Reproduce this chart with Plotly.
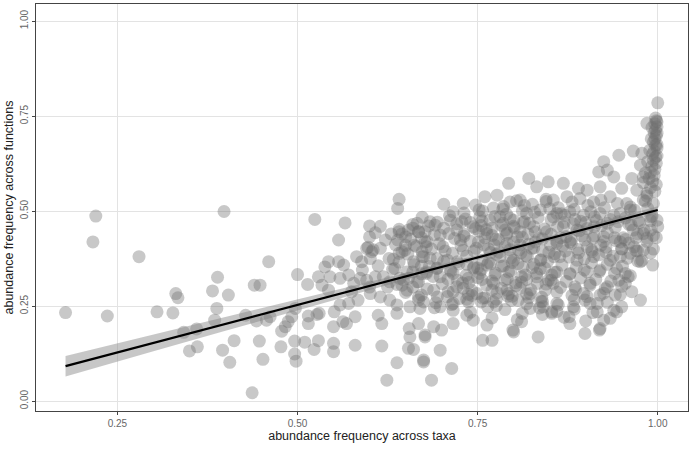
import plotly.graph_objects as go

# ---- data ----
# sparse points on the left (x < 0.57)
x_left = [0.178, 0.216, 0.220, 0.236, 0.280, 0.305, 0.327, 0.331, 0.334, 0.350, 0.361, 0.360, 0.342,
          0.382, 0.389, 0.388, 0.385, 0.398, 0.404, 0.396, 0.412, 0.406, 0.428, 0.440, 0.448, 0.443,
          0.447, 0.452, 0.437, 0.460, 0.457, 0.462, 0.477, 0.478, 0.483, 0.487, 0.492, 0.497, 0.500,
          0.496, 0.496, 0.498, 0.510, 0.514, 0.515, 0.523, 0.527, 0.530, 0.529, 0.524,
          0.529, 0.538, 0.543, 0.534, 0.543, 0.545, 0.515,
          0.550, 0.550, 0.550, 0.551, 0.557, 0.563]
y_left = [0.233, 0.419, 0.487, 0.224, 0.380, 0.235, 0.232, 0.283, 0.272, 0.132, 0.143, 0.190, 0.181,
          0.290, 0.326, 0.244, 0.213, 0.499, 0.279, 0.134, 0.159, 0.102, 0.226, 0.305, 0.305, 0.211,
          0.158, 0.110, 0.022, 0.367, 0.213, 0.222, 0.143, 0.184, 0.196, 0.209, 0.222, 0.244, 0.333,
          0.158, 0.124, 0.105, 0.155, 0.307, 0.224, 0.136, 0.228, 0.231, 0.159, 0.478,
          0.327, 0.353, 0.367, 0.305, 0.292, 0.327, 0.204,
          0.196, 0.152, 0.130, 0.235, 0.424, 0.209]

# middle of the cloud (0.55 - 0.68)
x_mid = [0.566, 0.600, 0.608, 0.600, 0.622, 0.641, 0.639, 0.666, 0.668, 0.654, 0.596, 0.603, 0.601,
         0.589, 0.615, 0.649, 0.641, 0.661, 0.675, 0.673, 0.557, 0.564, 0.571, 0.559, 0.587, 0.596,
         0.608, 0.619, 0.635, 0.628, 0.642, 0.654, 0.666, 0.679, 0.575, 0.584, 0.601, 0.615, 0.628,
         0.638, 0.652, 0.668, 0.656, 0.670, 0.559, 0.571, 0.568, 0.580, 0.612, 0.617, 0.638,
         0.655, 0.668, 0.677, 0.580, 0.617, 0.654, 0.661, 0.638, 0.675, 0.624, 0.656, 0.641, 0.639,
         0.598, 0.605, 0.645, 0.660, 0.672, 0.650, 0.662, 0.680, 0.582, 0.627, 0.612, 0.590, 0.625,
         0.645, 0.660, 0.672, 0.600, 0.578, 0.630, 0.615]
y_mid = [0.469, 0.461, 0.443, 0.432, 0.424, 0.446, 0.424, 0.468, 0.446, 0.450, 0.402, 0.393, 0.375,
         0.367, 0.402, 0.397, 0.389, 0.367, 0.380, 0.393, 0.367, 0.358, 0.332, 0.323, 0.323, 0.318,
         0.327, 0.327, 0.349, 0.314, 0.323, 0.323, 0.314, 0.340, 0.288, 0.266, 0.283, 0.274, 0.266,
         0.253, 0.292, 0.274, 0.248, 0.244, 0.253, 0.257, 0.204, 0.222, 0.226, 0.204, 0.231,
         0.191, 0.204, 0.169, 0.147, 0.145, 0.139, 0.136, 0.101, 0.103, 0.055, 0.169, 0.531, 0.507,
         0.405, 0.398, 0.440, 0.455, 0.430, 0.410, 0.410, 0.420, 0.380, 0.375, 0.356, 0.345, 0.300,
         0.305, 0.340, 0.355, 0.300, 0.310, 0.440, 0.460]

# dense part of the cloud (0.68 - 0.86)
x_dense = [0.793, 0.821, 0.832, 0.848, 0.760, 0.777, 0.703, 0.730, 0.747, 0.795, 0.809, 0.716, 0.684,
           0.691, 0.712, 0.728, 0.753, 0.767, 0.781, 0.800, 0.818, 0.837, 0.855, 0.677, 0.698, 0.721,
           0.747, 0.763, 0.788, 0.809, 0.828, 0.846, 0.679, 0.702, 0.726, 0.730, 0.751, 0.773, 0.791,
           0.809, 0.830, 0.851, 0.684, 0.708, 0.722, 0.745, 0.763, 0.781, 0.800, 0.819, 0.837, 0.856,
           0.679, 0.698, 0.716, 0.737, 0.753, 0.774, 0.793, 0.811, 0.832, 0.853, 0.689, 0.709, 0.730,
           0.749, 0.770, 0.791, 0.809, 0.823, 0.844, 0.675, 0.698, 0.716, 0.737, 0.772, 0.793, 0.823,
           0.841, 0.853, 0.716, 0.744, 0.763, 0.800, 0.811, 0.834, 0.689, 0.700, 0.677, 0.757, 0.770,
           0.698, 0.675, 0.714, 0.686, 0.799,
           0.740, 0.755, 0.770, 0.785, 0.800, 0.815, 0.760, 0.775, 0.790, 0.805, 0.820, 0.835, 0.745,
           0.765, 0.780, 0.795, 0.810, 0.825, 0.840, 0.735, 0.750, 0.768, 0.783, 0.798, 0.813, 0.828,
           0.843, 0.722, 0.738, 0.756, 0.772, 0.788, 0.803, 0.818, 0.833, 0.848, 0.708, 0.725, 0.742,
           0.760, 0.776, 0.792, 0.806, 0.821, 0.838, 0.694, 0.712, 0.731, 0.757, 0.785, 0.815, 0.845]
y_dense = [0.573, 0.586, 0.564, 0.577, 0.538, 0.542, 0.518, 0.520, 0.516, 0.524, 0.529, 0.498, 0.472,
           0.463, 0.476, 0.472, 0.485, 0.476, 0.485, 0.476, 0.494, 0.503, 0.485, 0.446, 0.437, 0.450,
           0.454, 0.441, 0.450, 0.446, 0.459, 0.446, 0.406, 0.406, 0.424, 0.397, 0.419, 0.411, 0.415,
           0.411, 0.419, 0.411, 0.376, 0.371, 0.367, 0.353, 0.358, 0.380, 0.371, 0.380, 0.371, 0.380,
           0.336, 0.327, 0.336, 0.323, 0.336, 0.332, 0.340, 0.327, 0.336, 0.332, 0.292, 0.288, 0.297,
           0.283, 0.292, 0.292, 0.297, 0.283, 0.292, 0.261, 0.248, 0.257, 0.261, 0.261, 0.283, 0.244,
           0.248, 0.231, 0.204, 0.213, 0.200, 0.182, 0.209, 0.169, 0.196, 0.187, 0.174, 0.160, 0.160,
           0.134, 0.108, 0.086, 0.055, 0.187,
           0.470, 0.462, 0.455, 0.468, 0.460, 0.472, 0.430, 0.425, 0.438, 0.432, 0.440, 0.428, 0.395,
           0.400, 0.392, 0.398, 0.390, 0.402, 0.395, 0.360, 0.350, 0.362, 0.355, 0.365, 0.352, 0.360,
           0.350, 0.318, 0.312, 0.320, 0.310, 0.318, 0.312, 0.320, 0.310, 0.318, 0.275, 0.270, 0.278,
           0.272, 0.268, 0.276, 0.265, 0.272, 0.262, 0.350, 0.345, 0.440, 0.500, 0.505, 0.515, 0.525]

# right end of the cloud (0.85 - 1.00)
x_right = [0.946, 0.966, 0.978, 0.925, 0.918, 0.930, 0.939, 0.964, 0.976, 0.980, 0.869, 0.890, 0.902,
           0.920, 0.950, 0.971, 0.985, 0.855, 0.874, 0.892, 0.911, 0.934, 0.957, 0.980, 0.994, 0.860,
           0.878, 0.897, 0.920, 0.939, 0.962, 0.990, 1.000, 0.999, 0.869, 0.888, 0.912, 0.925, 0.948,
           0.966, 0.980, 0.990, 0.860, 0.878, 0.902, 0.967, 0.980, 0.976, 0.962, 0.864, 0.888, 0.911,
           0.934, 0.948, 0.860, 0.878, 0.902, 0.920, 0.943, 0.955, 0.855, 0.885, 0.906, 0.930, 0.946,
           0.897, 0.920, 0.941, 0.964, 0.976, 0.959, 0.899, 0.916, 0.883, 0.860, 0.853, 0.877, 0.916,
           0.943, 0.950, 0.925, 0.934, 0.939, 0.920, 0.899, 0.878, 0.919,
           0.870, 0.885, 0.900, 0.915, 0.930, 0.945, 0.960, 0.975, 0.990, 0.865, 0.880, 0.895, 0.910,
           0.925, 0.940, 0.955, 0.970, 0.985, 0.998, 0.872, 0.890, 0.908, 0.928, 0.950, 0.972, 0.994]
y_right = [0.647, 0.658, 0.652, 0.630, 0.603, 0.608, 0.590, 0.586, 0.621, 0.590, 0.573, 0.560, 0.555,
           0.564, 0.560, 0.555, 0.547, 0.529, 0.538, 0.533, 0.524, 0.538, 0.520, 0.529, 0.520, 0.494,
           0.498, 0.489, 0.494, 0.489, 0.503, 0.485, 0.459, 0.476, 0.459, 0.450, 0.459, 0.432, 0.419,
           0.450, 0.441, 0.450, 0.415, 0.419, 0.406, 0.406, 0.397, 0.367, 0.389, 0.380, 0.371, 0.380,
           0.371, 0.380, 0.340, 0.336, 0.340, 0.345, 0.349, 0.336, 0.310, 0.301, 0.310, 0.301, 0.318,
           0.283, 0.279, 0.279, 0.288, 0.266, 0.327, 0.266, 0.257, 0.248, 0.257, 0.235, 0.222, 0.235,
           0.235, 0.248, 0.213, 0.218, 0.239, 0.191, 0.178, 0.204, 0.187,
           0.470, 0.478, 0.470, 0.475, 0.468, 0.472, 0.465, 0.470, 0.475, 0.430, 0.425, 0.435, 0.428,
           0.420, 0.430, 0.425, 0.430, 0.420, 0.430, 0.395, 0.390, 0.398, 0.392, 0.400, 0.395, 0.400]

# further overlapping points in the darkest band of the cloud
x_core = [0.786, 0.804, 0.826, 0.845, 0.862, 0.881, 0.903, 0.921, 0.944, 0.962, 0.983,
          0.731, 0.752, 0.772, 0.790, 0.812, 0.829, 0.850, 0.866, 0.884, 0.907, 0.926, 0.948, 0.968, 0.986,
          0.673, 0.694, 0.711, 0.733, 0.756, 0.774, 0.795, 0.813, 0.834, 0.852, 0.871, 0.893, 0.912, 0.934, 0.955, 0.973, 0.992,
          0.641, 0.660, 0.682, 0.703, 0.721, 0.744, 0.762, 0.783, 0.801, 0.822, 0.843, 0.861, 0.883, 0.902, 0.922, 0.941, 0.963, 0.981,
          0.650, 0.668, 0.690, 0.710, 0.731, 0.752, 0.770, 0.791, 0.812, 0.830, 0.852, 0.873, 0.891, 0.912, 0.930, 0.952, 0.972, 0.994,
          0.636, 0.657, 0.677, 0.697, 0.718, 0.740, 0.759, 0.779, 0.800, 0.821, 0.840, 0.860, 0.880, 0.899, 0.921, 0.942, 0.960, 0.985,
          0.645, 0.665, 0.686, 0.705, 0.727, 0.748, 0.768, 0.788, 0.807, 0.828, 0.849, 0.868, 0.889, 0.909, 0.928, 0.950, 0.970, 0.990,
          0.633, 0.653, 0.673, 0.694, 0.715, 0.735, 0.756, 0.776, 0.796, 0.817, 0.838, 0.857, 0.877, 0.898, 0.918, 0.938, 0.958, 0.978,
          0.641, 0.662, 0.683, 0.703, 0.724, 0.744, 0.765, 0.786, 0.806, 0.826, 0.847, 0.867, 0.887, 0.908, 0.930, 0.951, 0.972, 0.993,
          0.632, 0.652, 0.672, 0.693, 0.713, 0.734, 0.755, 0.775, 0.796, 0.816, 0.837, 0.857, 0.878, 0.898, 0.919, 0.940, 0.962,
          0.647, 0.668, 0.688, 0.709, 0.729, 0.750, 0.770, 0.791, 0.811, 0.832, 0.852, 0.873, 0.893, 0.914, 0.935, 0.955,
          0.638, 0.660, 0.680, 0.701, 0.721, 0.742, 0.762, 0.783, 0.803, 0.824, 0.845, 0.865, 0.886, 0.906, 0.927, 0.950,
          0.650, 0.672, 0.694, 0.716, 0.737, 0.757, 0.777, 0.798, 0.818, 0.839, 0.860, 0.881, 0.902, 0.925, 0.948,
          0.668, 0.692, 0.714, 0.735, 0.755, 0.776, 0.797, 0.818, 0.840, 0.862, 0.884, 0.906, 0.930,
          0.690, 0.716, 0.740, 0.764, 0.788, 0.812, 0.836, 0.860, 0.884, 0.910,
          0.735, 0.770, 0.805, 0.840, 0.870, 0.900]
y_core = [0.512, 0.527, 0.518, 0.531, 0.509, 0.524, 0.515, 0.529, 0.520, 0.511, 0.526,
          0.495, 0.503, 0.508, 0.492, 0.501, 0.497, 0.506, 0.493, 0.504, 0.498, 0.509, 0.494, 0.502, 0.507,
          0.484, 0.471, 0.488, 0.479, 0.474, 0.486, 0.481, 0.470, 0.483, 0.477, 0.489, 0.473, 0.485, 0.478, 0.482, 0.475, 0.487,
          0.452, 0.465, 0.461, 0.455, 0.467, 0.459, 0.451, 0.463, 0.456, 0.468, 0.453, 0.460, 0.466, 0.454, 0.462, 0.457, 0.464, 0.450,
          0.432, 0.446, 0.438, 0.441, 0.434, 0.447, 0.436, 0.442, 0.431, 0.445, 0.439, 0.433, 0.448, 0.435, 0.444, 0.430, 0.440, 0.436,
          0.412, 0.426, 0.419, 0.414, 0.428, 0.421, 0.411, 0.425, 0.418, 0.413, 0.427, 0.420, 0.415, 0.424, 0.410, 0.422, 0.416, 0.429,
          0.393, 0.407, 0.400, 0.395, 0.409, 0.402, 0.391, 0.406, 0.397, 0.403, 0.392, 0.408, 0.399, 0.394, 0.405, 0.401, 0.396, 0.390,
          0.373, 0.387, 0.380, 0.375, 0.389, 0.382, 0.371, 0.386, 0.377, 0.383, 0.372, 0.388, 0.379, 0.374, 0.385, 0.381, 0.376, 0.370,
          0.366, 0.359, 0.354, 0.368, 0.361, 0.350, 0.365, 0.356, 0.362, 0.351, 0.367, 0.358, 0.353, 0.364, 0.360, 0.355, 0.369, 0.358,
          0.347, 0.340, 0.335, 0.349, 0.342, 0.331, 0.346, 0.337, 0.343, 0.332, 0.348, 0.339, 0.334, 0.345, 0.341, 0.336, 0.330,
          0.319, 0.314, 0.328, 0.321, 0.311, 0.325, 0.316, 0.322, 0.313, 0.327, 0.318, 0.315, 0.324, 0.320, 0.316, 0.310,
          0.307, 0.300, 0.295, 0.309, 0.301, 0.291, 0.306, 0.297, 0.304, 0.293, 0.308, 0.299, 0.294, 0.305, 0.296, 0.302,
          0.286, 0.279, 0.274, 0.288, 0.281, 0.271, 0.285, 0.276, 0.282, 0.273, 0.287, 0.278, 0.275, 0.284, 0.280,
          0.266, 0.259, 0.254, 0.268, 0.261, 0.251, 0.265, 0.256, 0.262, 0.253, 0.267, 0.257, 0.260,
          0.246, 0.239, 0.234, 0.248, 0.241, 0.231, 0.245, 0.236, 0.242, 0.233,
          0.226, 0.219, 0.214, 0.228, 0.221, 0.211]

# near-vertical column at x close to 1
x_col = [1.000, 0.985, 0.997, 0.998, 0.996, 0.999, 0.997, 0.995, 0.998, 0.996, 0.994, 0.997, 0.999,
         0.995, 0.993, 0.997, 0.994, 0.998, 0.992, 0.996, 0.990, 0.995, 0.988, 0.993, 0.998, 0.990,
         0.996, 0.985, 0.999, 0.999, 0.999, 0.999, 0.992, 0.991, 0.989, 0.986, 0.983, 0.980]
y_col = [0.785, 0.731, 0.745, 0.738, 0.730, 0.722, 0.714, 0.706, 0.698, 0.690, 0.682, 0.674, 0.666,
         0.658, 0.650, 0.642, 0.634, 0.626, 0.618, 0.610, 0.602, 0.594, 0.586, 0.578, 0.570, 0.562,
         0.552, 0.540, 0.735, 0.705, 0.675, 0.645, 0.720, 0.690, 0.660, 0.630, 0.600, 0.575]

# linear fit and its confidence band
fit_x = [0.178, 0.30, 0.40, 0.50, 0.60, 0.70, 0.80, 0.90, 1.00]
fit_y = [0.092, 0.153, 0.203, 0.253, 0.303, 0.353, 0.403, 0.453, 0.503]
fit_half = [0.027, 0.022, 0.018, 0.014, 0.010, 0.007, 0.005, 0.007, 0.010]

x_ticks = [0.25, 0.50, 0.75, 1.00]
x_ticklabels = ["0.25", "0.50", "0.75", "1.00"]
y_ticks = [0.00, 0.25, 0.50, 0.75, 1.00]
y_ticklabels = ["0.00", "0.25", "0.50", "0.75", "1.00"]

xs = x_left + x_mid + x_dense + x_right + x_core + x_col
ys = y_left + y_mid + y_dense + y_right + y_core + y_col

fig = go.Figure()
fig.add_trace(go.Scatter(
    x=xs, y=ys, mode="markers",
    marker=dict(size=13, color="rgba(110,110,110,0.38)", line=dict(width=0)),
    hoverinfo="skip", showlegend=False))

upper = [a + h for a, h in zip(fit_y, fit_half)]
lower = [a - h for a, h in zip(fit_y, fit_half)]
fig.add_trace(go.Scatter(
    x=fit_x + fit_x[::-1], y=upper + lower[::-1], mode="lines",
    fill="toself", fillcolor="rgba(130,130,130,0.45)", line=dict(width=0),
    hoverinfo="skip", showlegend=False))
fig.add_trace(go.Scatter(
    x=fit_x, y=fit_y, mode="lines", line=dict(color="black", width=2.2),
    hoverinfo="skip", showlegend=False))

axis_common = dict(
    showgrid=True, gridcolor="#e3e3e3", gridwidth=1.3, zeroline=False,
    showline=True, linecolor="#444444", linewidth=1.2, mirror=True,
    ticks="outside", ticklen=3, tickcolor="#444444", automargin=False,
    tickfont=dict(family="Liberation Sans, Arial", size=10, color="#666666"),
)
fig.update_xaxes(range=[0.137, 1.042], tickvals=x_ticks, ticktext=x_ticklabels,
                 title=dict(text="abundance frequency across taxa", standoff=2,
                            font=dict(family="Liberation Sans, Arial", size=12.5, color="#222222")),
                 **axis_common)
fig.update_yaxes(range=[-0.026, 1.045], tickvals=y_ticks, ticktext=y_ticklabels, tickangle=-90,
                 title=dict(text="abundance frequency across functions", standoff=2,
                            font=dict(family="Liberation Sans, Arial", size=12.5, color="#222222")),
                 **axis_common)
fig.update_layout(width=692, height=450, margin=dict(l=36, r=4, t=4, b=39),
                  plot_bgcolor="white", paper_bgcolor="white")
fig.write_html("out.html", config={"displayModeBar": False},
               post_script="document.body.style.margin='0';document.body.style.overflow='hidden';")
